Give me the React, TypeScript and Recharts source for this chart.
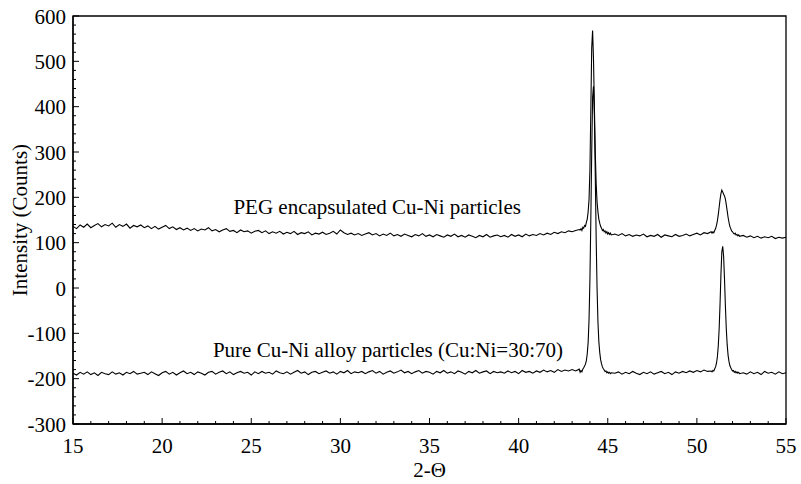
import { LineChart, Line, XAxis, YAxis, ReferenceArea, ReferenceDot } from "recharts";

// 2-theta sampling: coarse on the baseline, fine around the (111) and (200) peaks
const angleSegments: [number, number, number][] = [
  [15, 43.4, 0.2],
  [43.45, 45.2, 0.05],
  [45.4, 50.8, 0.2],
  [50.85, 52.4, 0.05],
  [52.6, 55, 0.2],
];

// PEG encapsulated Cu-Ni particles
const pegCounts = [
  // 15.0 - 43.4
  136, 131, 139, 134, 141, 133, 138, 142, 135, 140,
  137, 143, 134, 140, 136, 141, 132, 138, 135, 139,
  133, 137, 131, 136, 130, 134, 138, 131, 135, 129,
  133, 128, 132, 127, 131, 126, 130, 128, 133, 126,
  129, 124, 128, 131, 125, 127, 122, 128, 124, 126,
  121, 125, 127, 122, 126, 120, 124, 121, 125, 119,
  123, 120, 125, 118, 122, 120, 124, 117, 121, 119,
  123, 118, 121, 125, 119, 128, 122, 118, 121, 117,
  120, 116, 119, 122, 117, 120, 115, 119, 116, 121,
  115, 118, 114, 119, 116, 113, 118, 115, 120, 114,
  117, 113, 118, 115, 112, 117, 114, 119, 113, 116,
  112, 117, 114, 111, 116, 113, 118, 112, 115, 117,
  113, 116, 112, 118, 114, 117, 113, 119, 115, 118,
  116, 120, 117, 121, 118, 123, 120, 124, 122, 126,
  124, 127, 129,
  // 43.45 - 45.2
  128, 131, 127, 134, 132, 138, 136, 145, 152, 168,
  195, 260, 390, 530, 568, 505, 400, 300, 230, 190,
  168, 152, 143, 136, 132, 127, 129, 124, 126, 121,
  124, 119, 122, 118, 121, 117,
  // 45.4 - 50.8
  119, 116, 120, 115, 118, 114, 117, 115, 119, 113,
  116, 114, 118, 112, 117, 115, 113, 118, 114, 116,
  119, 115, 118, 121, 117, 122, 120, 124,
  // 50.85 - 52.4
  121, 124, 122, 127, 131, 138, 148, 162, 178, 195,
  208, 216, 212, 207, 203, 196, 184, 170, 156, 145,
  136, 131, 126, 124, 121, 119, 121, 117, 118, 115,
  117, 114,
  // 52.6 - 55.0
  116, 112, 115, 111, 114, 110, 113, 111, 114, 109, 112, 110, 112,
];

// Pure Cu-Ni alloy particles (Cu:Ni=30:70)
const pureCounts = [
  // 15.0 - 43.4
  -188, -192, -186, -190, -185, -191, -187, -193, -186, -189,
  -191, -185, -190, -187, -192, -186, -189, -184, -190, -188,
  -186, -191, -185, -189, -193, -187, -184, -190, -186, -192,
  -187, -183, -189, -186, -191, -185, -188, -192, -186, -184,
  -190, -186, -183, -189, -185, -191, -187, -184, -188, -186,
  -192, -185, -189, -184, -188, -186, -190, -183, -187, -189,
  -185, -190, -186, -182, -188, -185, -191, -186, -184, -189,
  -186, -183, -188, -185, -190, -184, -187, -182, -189, -185,
  -187, -184, -189, -185, -182, -188, -184, -190, -186, -183,
  -188, -185, -181, -187, -184, -189, -185, -182, -188, -184,
  -186, -190, -184, -187, -182, -188, -185, -189, -183, -186,
  -190, -184, -187, -182, -188, -185, -183, -189, -184, -187,
  -185, -188, -183, -187, -184, -189, -182, -186, -184, -188,
  -183, -186, -181, -185, -182, -186, -180, -184, -181, -183,
  -180, -183, -179,
  // 43.45 - 45.2
  -186, -182, -185, -179, -176, -172, -168, -160, -145, -120,
  -70, 20, 150, 300, 420, 445, 380, 250, 110, 0,
  -75, -118, -142, -158, -167, -174, -178, -181, -184, -183,
  -187, -185, -188, -186, -189, -187,
  // 45.4 - 50.8
  -188, -185, -190, -186, -189, -184, -188, -191, -186, -189,
  -185, -190, -187, -184, -189, -186, -191, -185, -188, -184,
  -187, -183, -186, -182, -185, -181, -184, -183,
  // 50.85 - 52.4
  -185, -182, -183, -178, -174, -166, -152, -128, -90, -35,
  30, 80, 92, 70, 20, -40, -90, -125, -148, -162,
  -171, -176, -180, -183, -182, -186, -184, -187, -185, -188,
  -186, -189,
  // 52.6 - 55.0
  -187, -190, -185, -189, -186, -191, -184, -188, -186, -190, -185, -189, -187,
];

const xMajorTicks = [15, 20, 25, 30, 35, 40, 45, 50, 55];
const yMajorTicks = [-300, -200, -100, 0, 100, 200, 300, 400, 500, 600];
const xMinorStep = 1;
const yMinorStep = 20;

const angles: number[] = [];
angleSegments.forEach(([start, end, step]) => {
  const n = Math.round((end - start) / step);
  for (let k = 0; k <= n; k++) angles.push(Math.round((start + k * step) * 100) / 100);
});

const data = angles.map((angle, i) => ({ angle, peg: pegCounts[i], pure: pureCounts[i] }));

const xTicks: number[] = [];
for (let v = 15; v <= 55; v += xMinorStep) xTicks.push(v);
const yTicks: number[] = [];
for (let v = -300; v <= 600; v += yMinorStep) yTicks.push(v);

const font = '"Times New Roman", "Liberation Serif", "DejaVu Serif", serif';
const textStyle = { fontFamily: font, fontSize: 21 };

function XTick(props: any) {
  const { x, y, payload } = props;
  const major = xMajorTicks.includes(payload.value);
  return (
    <g>
      <line x1={x} x2={x} y1={y} y2={y - (major ? 6 : 3)} stroke="#000" strokeWidth={1} />
      {major && (
        <text x={x} y={y + 29} textAnchor="middle" style={textStyle} fill="#000">
          {payload.value}
        </text>
      )}
    </g>
  );
}

function YTick(props: any) {
  const { x, y, payload } = props;
  const major = yMajorTicks.includes(payload.value);
  return (
    <g>
      <line x1={x} x2={x + (major ? 6 : 3)} y1={y} y2={y} stroke="#000" strokeWidth={1} />
      {major && (
        <text x={x - 7} y={y} dy="0.36em" textAnchor="end" style={textStyle} fill="#000">
          {payload.value}
        </text>
      )}
    </g>
  );
}

const note = (text: string) => (p: any) =>
  (
    <text x={p.cx} y={p.cy} style={textStyle} fill="#000">
      {text}
    </text>
  );

export default function App() {
  return (
    <div style={{ position: "absolute", left: 0, top: 0, background: "#fff", fontFamily: font }}>
      <LineChart width={801} height={484} data={data} margin={{ top: 16, right: 15, bottom: 0, left: 0 }}>
        <XAxis
          dataKey="angle"
          type="number"
          domain={[15, 55]}
          ticks={xTicks}
          interval={0}
          tickSize={0}
          tickMargin={0}
          tick={<XTick />}
          height={60}
          axisLine={{ stroke: "#000", strokeWidth: 1.3 }}
          label={{ value: "2-\u0398", position: "insideBottom", offset: 7, fill: "#000", style: textStyle }}
        />
        <YAxis
          type="number"
          domain={[-300, 600]}
          ticks={yTicks}
          interval={0}
          tickSize={0}
          tickMargin={0}
          tick={<YTick />}
          width={73}
          axisLine={{ stroke: "#000", strokeWidth: 1.3 }}
          label={{
            value: "Intensity (Counts)",
            angle: -90,
            position: "insideLeft",
            offset: 20,
            fill: "#000",
            style: { ...textStyle, textAnchor: "middle" },
          }}
        />
        <ReferenceArea x1={15} x2={55} y1={-300} y2={600} fill="none" stroke="#000" strokeWidth={1.3} fillOpacity={0} />
        <Line dataKey="peg" type="linear" stroke="#000" strokeWidth={1.1} dot={false} isAnimationActive={false} />
        <Line dataKey="pure" type="linear" stroke="#000" strokeWidth={1.1} dot={false} isAnimationActive={false} />
        <ReferenceDot x={24} y={163} r={0} shape={note("PEG encapsulated Cu-Ni particles")} />
        <ReferenceDot x={22.85} y={-152} r={0} shape={note("Pure Cu-Ni alloy particles (Cu:Ni=30:70)")} />
      </LineChart>
    </div>
  );
}
